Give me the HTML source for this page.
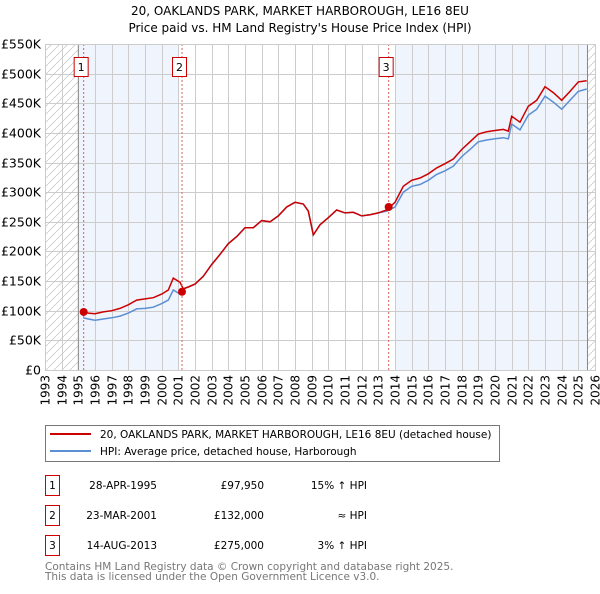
<!DOCTYPE html>
<html><head><meta charset="utf-8"><style>
body{margin:0;background:#fff;font-family:"DejaVu Sans","Liberation Sans",sans-serif;}
svg text{font-family:"DejaVu Sans","Liberation Sans",sans-serif;}
</style></head><body>
<svg id="c" width="600" height="590" xmlns="http://www.w3.org/2000/svg">
<defs><pattern id="h" width="8" height="8" patternUnits="userSpaceOnUse"><path d="M0,8 L8,0" stroke="#ccc" stroke-width="0.8"/></pattern></defs>
<text x="300" y="15" text-anchor="middle" font-size="12">20, OAKLANDS PARK, MARKET HARBOROUGH, LE16 8EU</text>
<text x="300" y="32" text-anchor="middle" font-size="12">Price paid vs. HM Land Registry's House Price Index (HPI)</text>
<g id="plot"></g>
<g>
<rect x="45.5" y="425.5" width="454" height="36" fill="#fff" stroke="#777"/>
<line x1="50" y1="434" x2="91" y2="434" stroke="#cc0000" stroke-width="2"/>
<text x="100" y="438" font-size="10.5">20, OAKLANDS PARK, MARKET HARBOROUGH, LE16 8EU (detached house)</text>
<line x1="50" y1="451" x2="91" y2="451" stroke="#5b8fd4" stroke-width="2"/>
<text x="100" y="455" font-size="10.5">HPI: Average price, detached house, Harborough</text>
</g>
<g id="tbl" font-size="10.5"></g>
<text x="45" y="570" font-size="10.5" fill="#777">Contains HM Land Registry data © Crown copyright and database right 2025.</text>
<text x="45" y="580" font-size="10.5" fill="#777">This data is licensed under the Open Government Licence v3.0.</text>
</svg>
<script>
const dates=[1995.3,1995.6,1996,1996.5,1997,1997.5,1998,1998.5,1999,1999.5,2000,2000.4,2000.7,2001.1,2001.3,2001.6,2002,2002.5,2003,2003.5,2004,2004.5,2005,2005.5,2006,2006.5,2007,2007.5,2008,2008.5,2008.8,2009.1,2009.5,2010,2010.5,2011,2011.5,2012,2012.5,2013,2013.5,2014,2014.5,2015,2015.5,2016,2016.5,2017,2017.5,2018,2018.5,2019,2019.5,2020,2020.5,2020.8,2021,2021.5,2022,2022.5,2023,2023.5,2024,2024.5,2025,2025.5];
const hpi=[88,86,84,86,88,91,96,103,104,106,112,118,135,128,137,140,145,158,178,195,213,225,240,240,252,250,260,275,283,280,268,228,245,257,270,265,266,260,262,265,268,275,300,310,313,320,330,336,344,360,372,385,388,390,392,390,415,405,430,440,462,452,440,455,470,474];
const price=[98,96,95,98,100,104,110,118,120,122,128,135,155,148,137,140,145,158,178,195,213,225,240,240,252,250,260,275,283,280,268,228,245,257,270,265,266,260,262,265,270,283,310,320,324,331,341,348,356,372,385,398,402,404,406,403,428,418,445,455,478,468,455,470,486,488];
const yTicks=[0,50,100,150,200,250,300,350,400,450,500,550];
const yLabels=["£0","£50K","£100K","£150K","£200K","£250K","£300K","£350K","£400K","£450K","£500K","£550K"];
const xYears=[1993,1994,1995,1996,1997,1998,1999,2000,2001,2002,2003,2004,2005,2006,2007,2008,2009,2010,2011,2012,2013,2014,2015,2016,2017,2018,2019,2020,2021,2022,2023,2024,2025,2026];
const saleDates=[1995.32,2001.22,2013.62];
const saleValues=[97.95,132,275];
const saleLabels=["1","2","3"];
const rowDates=["28-APR-1995","23-MAR-2001","14-AUG-2013"];
const rowPrices=["£97,950","£132,000","£275,000"];
const rowHpi=["15% ↑ HPI","≈ HPI","3% ↑ HPI"];
const X0=45,X1=595,Y0=370,Y1=44;
const sx=v=>X0+(v-1993)/33*(X1-X0);
const sy=v=>Y0-v/550*(Y0-Y1);
const NS="http://www.w3.org/2000/svg";
function mk(p,t,a){const e=document.createElementNS(NS,t);for(const k in a)e.setAttribute(k,a[k]);p.appendChild(e);return e;}
const g=document.getElementById('plot');
let r=mk(g,'rect',{x:X0,y:Y1,width:X1-X0,height:Y0-Y1,fill:'#fff'});


r=mk(g,'rect',{x:sx(1995),y:Y1,width:sx(2001.05)-sx(1995),height:Y0-Y1,fill:'#f0f4fc'});


r=mk(g,'rect',{x:sx(2014),y:Y1,width:sx(2025.55)-sx(2014),height:Y0-Y1,fill:'#f0f4fc'});


r=mk(g,'rect',{x:X0,y:Y1,width:sx(1995)-X0,height:Y0-Y1,fill:'url(#h)'});


r=mk(g,'rect',{x:sx(2025.55),y:Y1,width:X1-sx(2025.55),height:Y0-Y1,fill:'url(#h)'});


yTicks.forEach((v,i)=>{
 const y=Math.round(sy(v))+0.5;
 let l=mk(g,'line',{x1:X0,x2:X1,y1:y,y2:y,stroke:'#ccc','stroke-width':1});
 
 
 let t=mk(g,'text',{x:X0-4,y:y+4,'text-anchor':'end','font-size':12.5});
 t.textContent=yLabels[i];
 
 
});
xYears.forEach(v=>{
 const x=Math.round(sx(v))+0.5;
 let l=mk(g,'line',{x1:x,x2:x,y1:Y1,y2:Y0,stroke:'#ccc','stroke-width':1});
 
 
 let t=mk(g,'text',{x:x+4,y:Y0+5,'text-anchor':'end','font-size':12,transform:`rotate(-90 ${x+4} ${Y0+5})`});
 t.textContent=v;
 
 
});
[1995,2025.55].forEach(v=>{
 let l=mk(g,'line',{x1:sx(v),x2:sx(v),y1:Y1,y2:Y0,stroke:'#888','stroke-width':1});
 
 
});
const path=arr=>arr.map((v,i)=>(i?'L':'M')+sx(dates[i]).toFixed(1)+','+sy(v).toFixed(1)).join('');
let p=mk(g,'path',{d:path(hpi),fill:'none',stroke:'#5b8fd4','stroke-width':1.5});


p=mk(g,'path',{d:path(price),fill:'none',stroke:'#cc0000','stroke-width':1.5});


saleDates.forEach((d,i)=>{
 const x=sx(d);
 let l=mk(g,'line',{x1:x,x2:x,y1:Y1,y2:Y0,stroke:'#e06060','stroke-width':1,'stroke-dasharray':'2,2'});
 
 
 let c=mk(g,'circle',{cx:x,cy:sy(saleValues[i]),r:4,fill:'#cc0000'});
 
 
 let b=mk(g,'rect',{x:x-9.5,y:57.5,width:14,height:19,fill:'#fff',stroke:'#cc0000'});
 
 
 let t=mk(g,'text',{x:x-2.5,y:71,'text-anchor':'middle','font-size':11});
 t.textContent=saleLabels[i];
 
 
});
let ax=mk(g,'rect',{x:X0+0.5,y:Y1+0.5,width:X1-X0,height:Y0-Y1,fill:'none',stroke:'#ccc'});


const tb=document.getElementById('tbl');
saleLabels.forEach((s,i)=>{
 const y=475+i*30;
 let b=mk(tb,'rect',{x:45.5,y:y+0.5,width:14,height:20,fill:'#fff',stroke:'#cc0000'});
 
 
 let t=mk(tb,'text',{x:52.5,y:y+14,'text-anchor':'middle'});t.textContent=s;
 
 
 t=mk(tb,'text',{x:157,y:y+14,'text-anchor':'end'});t.textContent=rowDates[i];
 
 
 t=mk(tb,'text',{x:264,y:y+14,'text-anchor':'end'});t.textContent=rowPrices[i];
 
 
 t=mk(tb,'text',{x:367,y:y+14,'text-anchor':'end'});t.textContent=rowHpi[i];
 
 
});
</script>
</body></html>
